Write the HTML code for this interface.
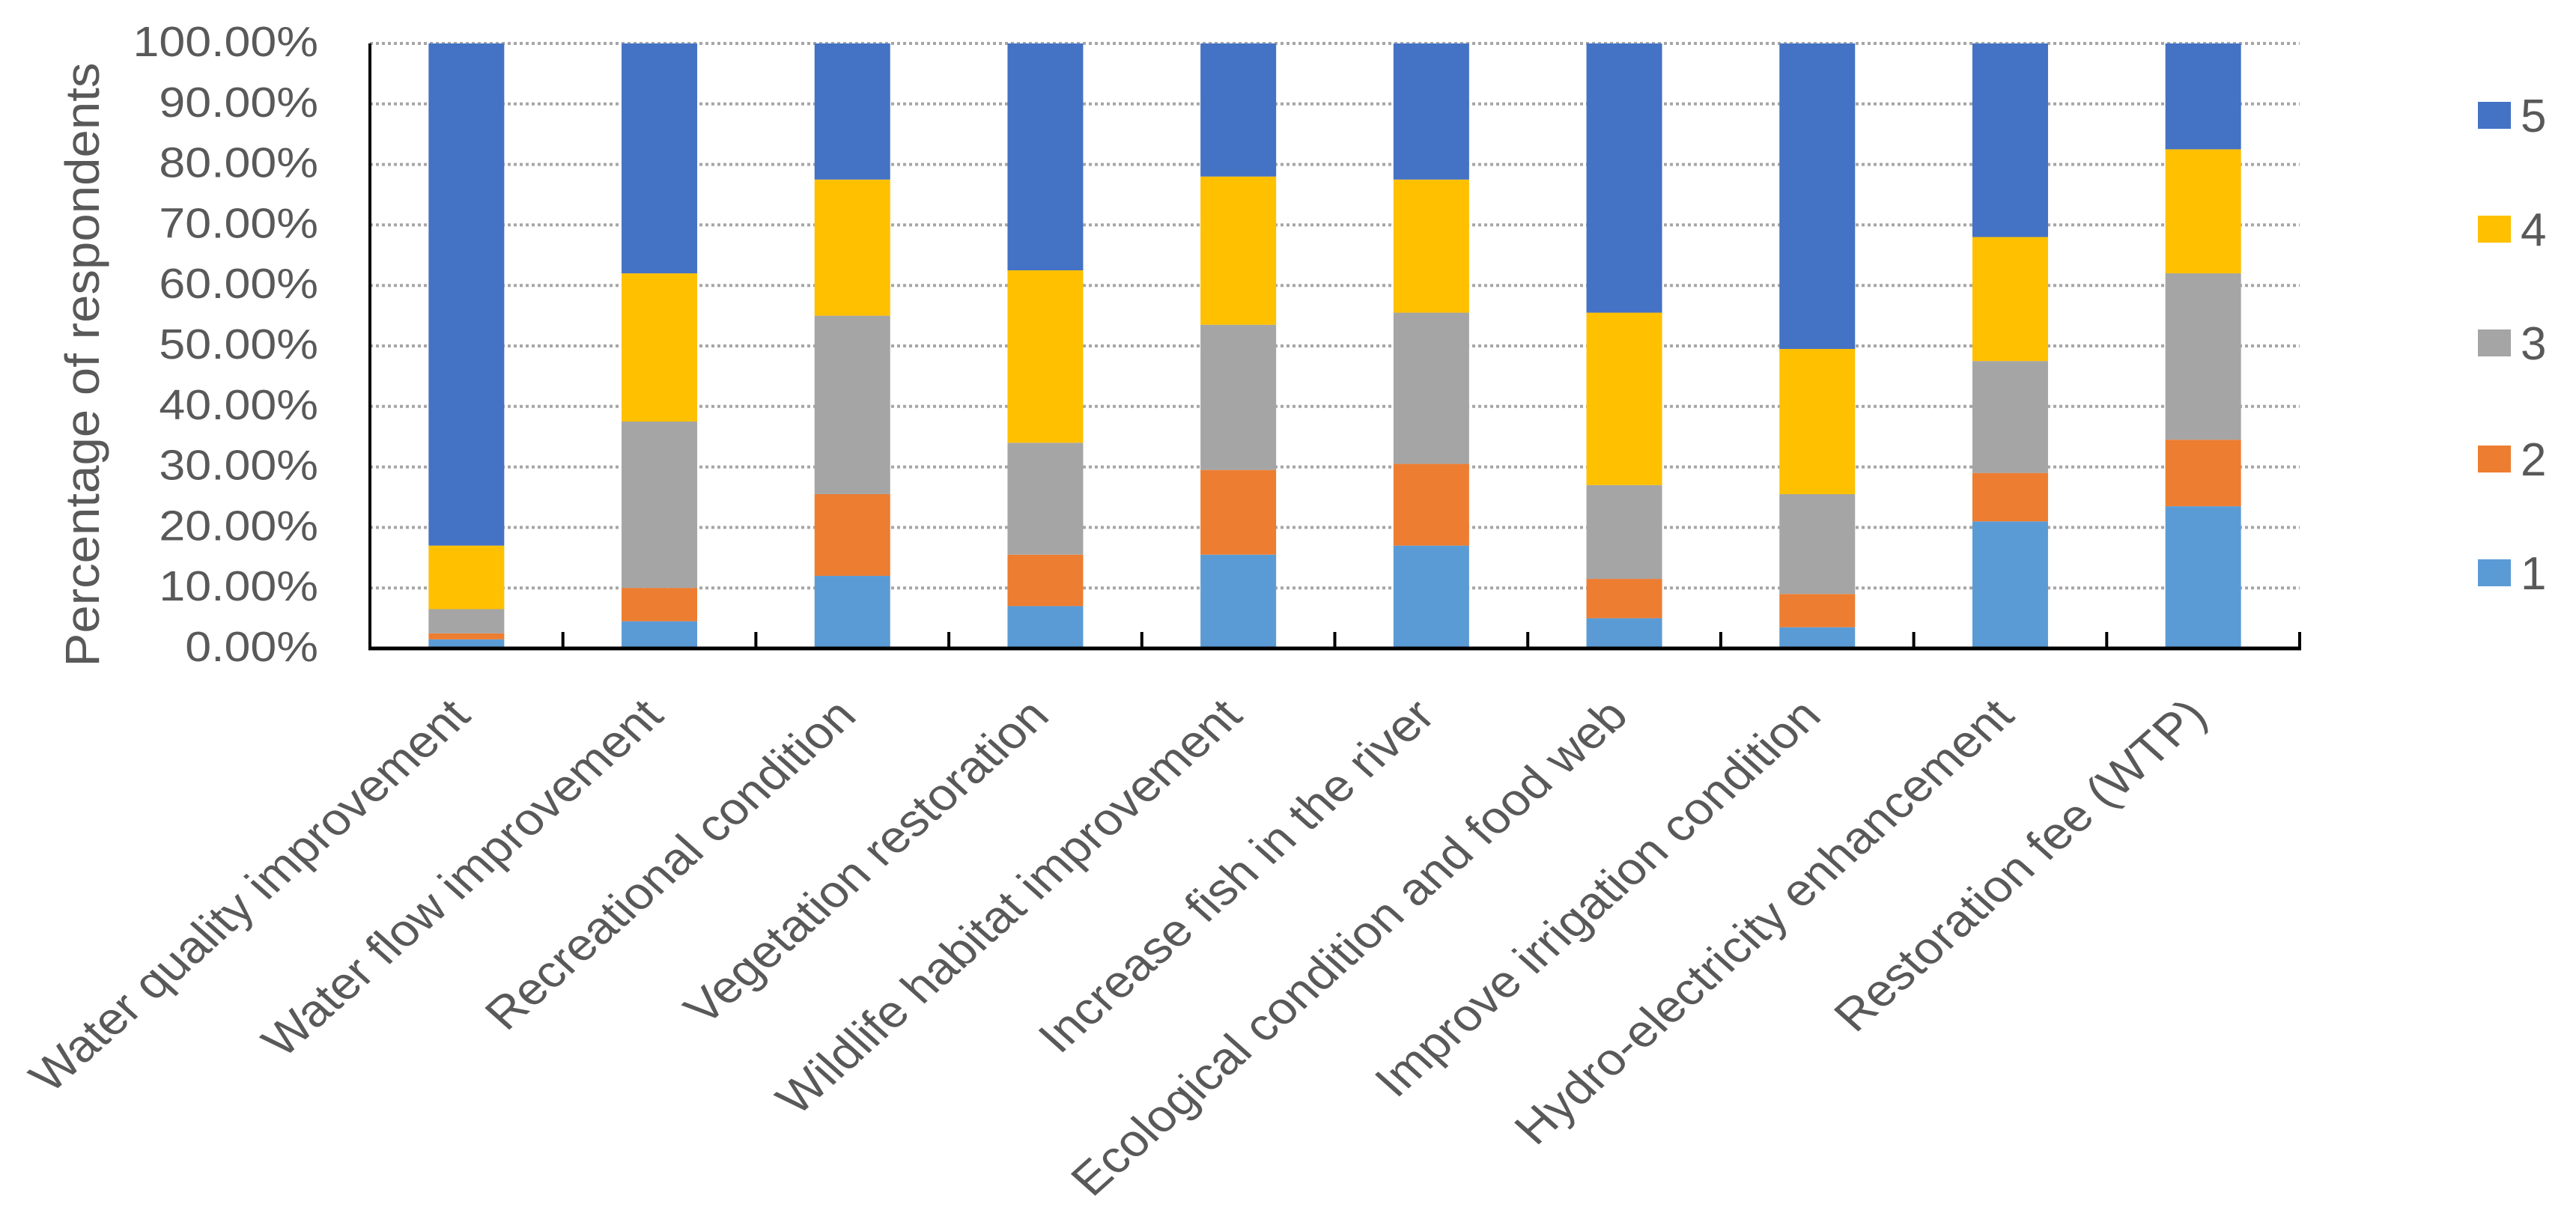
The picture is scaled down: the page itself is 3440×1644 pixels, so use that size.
<!DOCTYPE html>
<html><head><meta charset="utf-8"><style>
html,body{margin:0;padding:0;background:#fff;width:3440px;height:1644px;overflow:hidden}
svg{display:block}
text{font-family:"Liberation Sans",Arial,sans-serif;fill:#595959}
</style></head><body>
<svg id="chart" width="3440" height="1644" viewBox="0 0 3440 1644" xmlns="http://www.w3.org/2000/svg">
<g id="grid"></g>
<g id="bars"></g>
<g id="axes"></g>
<g id="ylabels"></g>
<g id="xlabels"></g>
<text id="ytitle" x="0" y="0" font-size="64" text-anchor="middle" transform="translate(132,487) rotate(-90)" textLength="807" lengthAdjust="spacingAndGlyphs">Percentage of respondents</text>
<g id="legend"></g>
</svg>
<script>
const categories = ["Water quality improvement","Water flow improvement","Recreational condition","Vegetation restoration","Wildlife habitat improvement","Increase fish in the river","Ecological condition and food web","Improve irrigation condition","Hydro-electricity enhancement","Restoration fee (WTP)"];
const s1 = [1.5, 4.5, 12, 7, 15.5, 17, 5, 3.5, 21, 23.5];
const s2 = [1, 5.5, 13.5, 8.5, 14, 13.5, 6.5, 5.5, 8, 11];
const s3 = [4, 27.5, 29.5, 18.5, 24, 25, 15.5, 16.5, 18.5, 27.5];
const s4 = [10.5, 24.5, 22.5, 28.5, 24.5, 22, 28.5, 24, 20.5, 20.5];
const s5 = [83, 38, 22.5, 37.5, 22, 22.5, 44.5, 50.5, 32, 17.5];
const seriesNames = ["1","2","3","4","5"];
const yTicks = [0,10,20,30,40,50,60,70,80,90,100];

const NS = "http://www.w3.org/2000/svg";
const X0 = 494, X1 = 3071, Y0 = 866, Y1 = 58;
const colors = ["#5B9BD5","#ED7D31","#A5A5A5","#FFC000","#4472C4"];
const series = [s1,s2,s3,s4,s5];
const band = (X1 - X0) / categories.length;
const barW = 101;
function xC(i){ return X0 + band * (i + 0.5); }
function yS(v){ return Y0 - (v / 100) * (Y0 - Y1); }
function mk(tag, attrs, parent){ const e = document.createElementNS(NS, tag); for (const k in attrs) e.setAttribute(k, attrs[k]); parent.appendChild(e); return e; }

const grid = document.getElementById('grid');
yTicks.forEach(t => {
  if (t === 0) return;
  const l = mk('line', {x1: X0, x2: X1, y1: yS(t), y2: yS(t), stroke: '#a6a6a6', 'stroke-width': 4, 'stroke-dasharray': '4 4'}, grid);
  
  
});

const bars = document.getElementById('bars');
categories.forEach((c, i) => {
  let acc = 0;
  series.forEach((s, k) => {
    const v = s[i];
    const r = mk('rect', {x: xC(i) - barW / 2, y: yS(acc + v), width: barW, height: yS(acc) - yS(acc + v), fill: colors[k]}, bars);
    
    
    acc += v;
  });
});

const axes = document.getElementById('axes');
const ya = mk('line', {x1: X0, x2: X0, y1: Y1, y2: Y0 + 2, stroke: '#000', 'stroke-width': 4}, axes);


const xa = mk('line', {x1: X0 - 2, x2: X1 + 2, y1: Y0, y2: Y0, stroke: '#000', 'stroke-width': 5}, axes);


for (let i = 1; i <= categories.length; i++) {
  const tx = X0 + band * i;
  const tk = mk('line', {x1: tx, x2: tx, y1: Y0 - 22, y2: Y0, stroke: '#000', 'stroke-width': 4}, axes);
  
  
}

const yl = document.getElementById('ylabels');
yTicks.forEach(t => {
  const tx = mk('text', {x: 0, y: 0, 'font-size': 57, 'text-anchor': 'end', transform: 'translate(425,' + (yS(t) + 17) + ') scale(1.1,1)'}, yl);
  tx.textContent = t.toFixed(2) + '%';
  
  
});

const xl = document.getElementById('xlabels');
categories.forEach((c, i) => {
  const ex = xC(i) + 8, ey = Y0 + 93;
  const tx = mk('text', {x: 0, y: 0, 'font-size': 60, 'text-anchor': 'end', transform: 'translate(' + ex + ',' + ey + ') scale(1.12,1) rotate(-45)'}, xl);
  tx.textContent = c;
  
  
});

const lg = document.getElementById('legend');
const legY = [765, 613, 458, 306, 154];
seriesNames.forEach((n, k) => {
  const sq = mk('rect', {x: 3309, y: legY[k] - 18, width: 44, height: 36, fill: colors[k]}, lg);
  
  
  const t = mk('text', {x: 3366, y: legY[k] + 22, 'font-size': 62}, lg);
  t.textContent = n;
  
  
});
</script>
</body></html>
